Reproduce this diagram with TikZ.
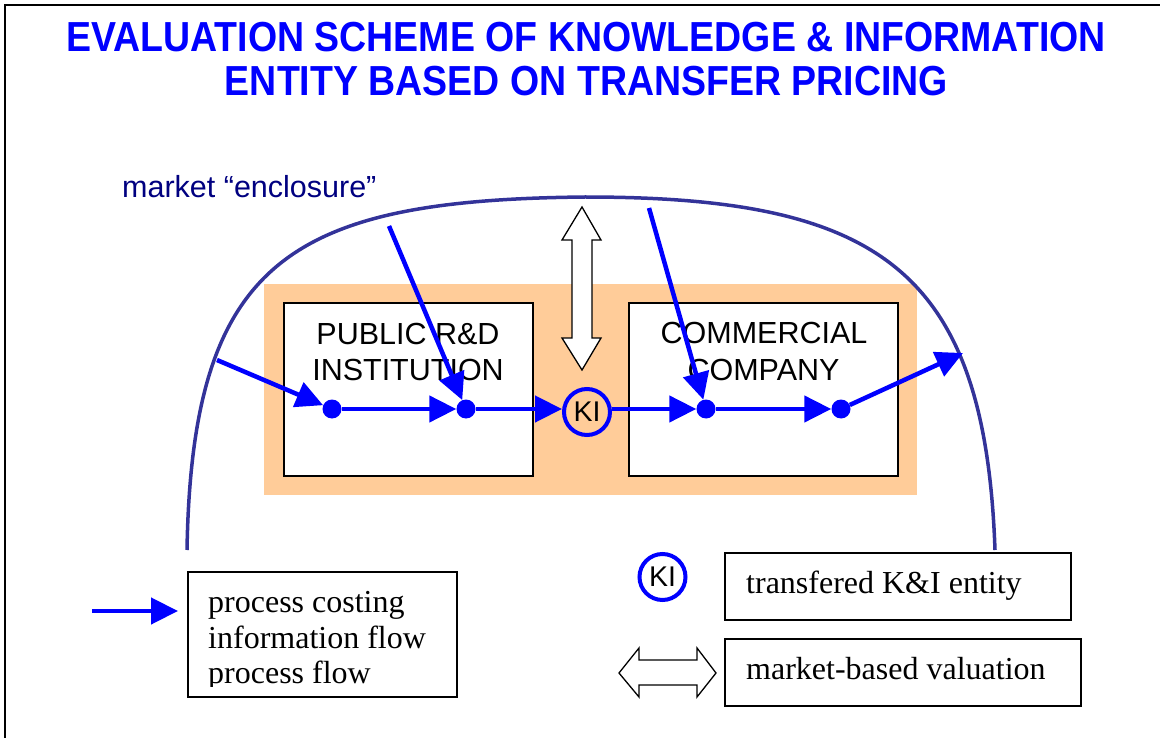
\documentclass[tikz,border=0pt]{standalone}
\usepackage{fontspec}
\usepackage{graphicx}
\setmainfont{Liberation Serif}
\newfontfamily\sansf{Liberation Sans}
\usetikzlibrary{arrows.meta}
\definecolor{flowblue}{RGB}{0,0,255}
\definecolor{encl}{RGB}{51,51,153}
\definecolor{navytext}{RGB}{0,0,128}
\definecolor{peach}{RGB}{255,204,153}
\begin{document}
\begin{tikzpicture}[x=1pt,y=-1pt,
  flow/.style={draw=flowblue, line width=4.5pt, -{Triangle[length=27pt,width=26pt]}},
  dotnode/.style={circle, fill=flowblue, inner sep=0pt, minimum size=19pt},
  kinode/.style={circle, draw=flowblue, line width=4pt, inner sep=0pt, minimum size=46pt,
    font=\sansf\fontsize{28.5}{28.5}\selectfont},
  orgbox/.style={draw=black, line width=2pt, fill=white, inner sep=0pt},
  legbox/.style={draw=black, line width=1.8pt, fill=white, inner sep=0pt},
  orglabel/.style={anchor=base, inner sep=0pt, font=\sansf\fontsize{30.5}{36}\selectfont},
  legtext/.style={anchor=base west, inner sep=0pt, font=\fontsize{32}{36}\selectfont},
  titletext/.style={anchor=base, inner sep=0pt, text=flowblue, font=\sansf\bfseries\fontsize{42}{44}\selectfont},
  hollow/.style={draw=black, fill=white, line width=1.3pt, line join=miter}]
\useasboundingbox (0,0) rectangle (1160,738);
% frame
\draw[line width=2pt] (5,738) -- (5,5) -- (1160,5);
% title
\node[titletext] (t1) at (586,52) {\scalebox{0.893}[1]{EVALUATION SCHEME OF KNOWLEDGE \& INFORMATION}};
\node[titletext] (t2) at (586.5,96) {\scalebox{0.893}[1]{ENTITY BASED ON TRANSFER PRICING}};
% market enclosure label
\node[anchor=base west, inner sep=0pt, text=navytext, font=\sansf\fontsize{30.5}{36}\selectfont] (mk) at (122,198) {market “enclosure”};
% orange zone and boxes
\node[fill=peach, inner sep=0pt, minimum width=653pt, minimum height=211pt] (zone) at (590.5,389.5) {};
% enclosure curve
\draw[encl, line width=3.5pt] (187,550) .. controls (192,260) and (290,200) .. (585,197)
  .. controls (880,197) and (985,270) .. (995,550);
\node[orgbox, minimum width=249pt, minimum height=172pt] (pub) at (408,389.5) {};
\node[orgbox, minimum width=269pt, minimum height=172pt] (com) at (763.5,389.5) {};
\node[orglabel] (pub1) at (408,344) {PUBLIC R\&D};
\node[orglabel] (pub2) at (408,380) {INSTITUTION};
\node[orglabel] (com1) at (764,343) {COMMERCIAL};
\node[orglabel] (com2) at (763.5,380) {COMPANY};
% market-based valuation double arrow (vertical)
\draw[hollow] (582,207) -- (601,240) -- (592,240) -- (592,338) -- (601,338) -- (582,370)
  -- (562,338) -- (572,338) -- (572,240) -- (562,240) -- cycle;
% flow nodes
\node[dotnode] (d1) at (332,409) {};
\node[dotnode] (d2) at (466,409) {};
\node[kinode] (ki) at (587,412) {KI};
\node[dotnode] (d3) at (706,409) {};
\node[dotnode] (d4) at (841,409) {};
\coordinate (inL) at (217,360);
\coordinate (topL) at (389,226);
\coordinate (topR) at (649,208);
\coordinate (outR) at (963,353);
\draw[flow] (inL) -- (d1);
\draw[flow] (d1) -- (d2);
\draw[flow] (topL) -- (d2);
\draw[flow] (d2) -- (ki.west |- d2);
\draw[flow] (ki.east |- d3) -- (d3);
\draw[flow] (topR) -- (d3);
\draw[flow] (d3) -- (d4);
\draw[flow] (d4) -- (outR);
% legend
\coordinate (legA) at (92,611);
\coordinate (legB) at (178,611);
\draw[flow] (legA) -- (legB);
\node[legbox, minimum width=269pt, minimum height=125pt] (lb1) at (322.5,634.5) {};
\begin{scope}
\clip (188,572) rectangle (457,686);
\node[legtext] (l1a) at (208,612) {process costing};
\node[legtext] (l1b) at (208,648) {information flow};
\node[legtext] (l1c) at (208,683) {process flow};
\end{scope}
\node[kinode] (ki2) at (662.5,577) {KI};
\node[legbox, minimum width=346pt, minimum height=67pt] (lb2) at (898,586.5) {};
\node[legtext] (l2) at (746,593) {transfered K\&I entity};
\draw[hollow] (619,673) -- (639,648) -- (639,660) -- (697,660) -- (697,648) -- (716,673)
  -- (697,697) -- (697,685) -- (639,685) -- (639,697) -- cycle;
\node[legbox, minimum width=356pt, minimum height=67pt] (lb3) at (903,672.5) {};
\node[legtext] (l3) at (746,679) {market-based valuation};
\end{tikzpicture}
\end{document}
